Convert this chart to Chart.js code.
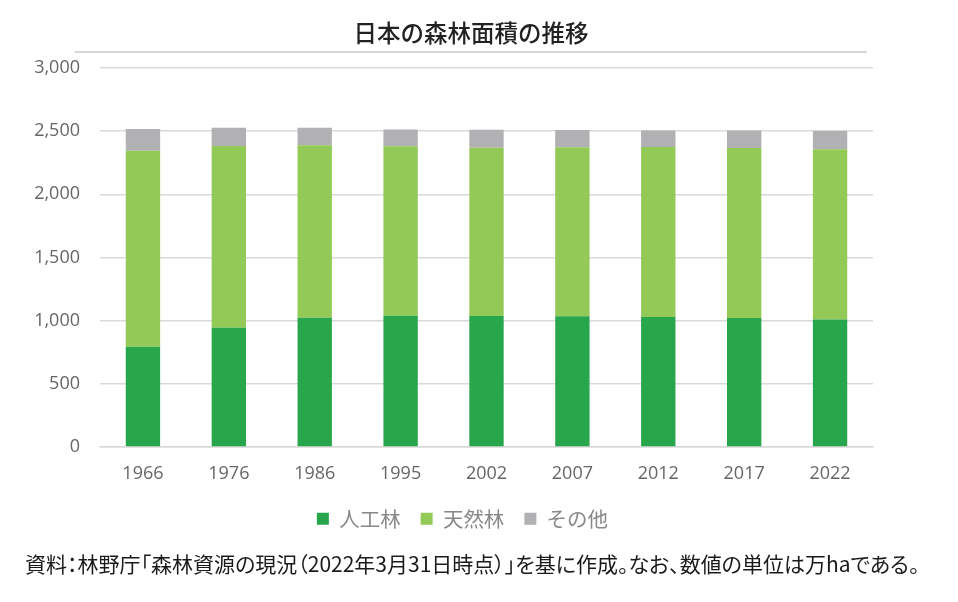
<!DOCTYPE html>
<html lang="ja">
<head>
<meta charset="utf-8">
<script src="https://cdn.jsdelivr.net/npm/chart.js@4"></script>
<style>
  html, body { margin: 0; padding: 0; background: #fff; }
  #wrap { position: relative; width: 958px; height: 602px; overflow: hidden; }
  #title {
    position: absolute; left: 0; top: 15px; width: 942px; text-align: center;
    font-family: "Noto Sans CJK JP", sans-serif; font-size: 23.5px; font-weight: 500;
    color: #222; line-height: 34px;
  }
  #rule { position: absolute; left: 75px; top: 51px; width: 792px; height: 2px; background: #d6d6d6; }
  #note {
    position: absolute; left: 25px; top: 547px;
    font-family: "Noto Sans CJK JP", sans-serif; font-size: 21px; color: #1a1a1a;
    font-feature-settings: "palt"; white-space: nowrap; line-height: 32px;
  }
  canvas { position: absolute; left: 0; top: 0; }
</style>
</head>
<body>
<div id="wrap">
  <canvas id="forestChart" width="958" height="602"></canvas>
  <div id="title">日本の森林面積の推移</div>
  <div id="rule"></div>
  <div id="note">資料：林野庁「森林資源の現況（2022年3月31日時点）」を基に作成。なお、数値の単位は万haである。</div>
</div>
<script>
// data (万ha)
const years = ['1966', '1976', '1986', '1995', '2002', '2007', '2012', '2017', '2022'];
const planted = [793, 943, 1022, 1038, 1036, 1035, 1029, 1020, 1009];
const natural = [1551, 1440, 1367, 1343, 1333, 1338, 1346, 1346, 1348];
const other = [173, 143, 137, 132, 142, 137, 131, 139, 145];
const yTicks = [0, 500, 1000, 1500, 2000, 2500, 3000];

const numFont = '"Open Sans", "DejaVu Sans", sans-serif';
const jpFont = '"Noto Sans CJK JP", sans-serif';

// nudge the legend up toward the year labels and a bit to the right
const legendShift = {
  id: 'legendShift',
  afterLayout(chart) {
    const lg = chart.legend;
    lg.top -= 12;
    lg.bottom -= 12;
    lg.left += 26;
    lg.right += 26;
  }
};

const ctx = document.getElementById('forestChart').getContext('2d');

new Chart(ctx, {
  type: 'bar',
  data: {
    labels: years,
    datasets: [
      { label: '人工林', data: planted, backgroundColor: '#27a64c' },
      { label: '天然林', data: natural, backgroundColor: '#92c957' },
      { label: 'その他', data: other, backgroundColor: '#b1b1b3' }
    ]
  },
  options: {
    responsive: false,
    animation: false,
    devicePixelRatio: 1,
    layout: { padding: { left: 0, right: 85, top: 68, bottom: 51 } },
    datasets: {
      bar: { categoryPercentage: 1, barPercentage: 0.4 }
    },
    scales: {
      x: {
        stacked: true,
        grid: { display: false, drawTicks: false },
        border: { display: true, color: '#d9d9d9', width: 1.5 },
        ticks: { color: '#666', padding: 16, font: { family: numFont, size: 18 } }
      },
      y: {
        stacked: true,
        min: 0,
        max: 3000,
        afterBuildTicks: (scale) => { scale.ticks = yTicks.map(v => ({ value: v })); },
        afterFit: (scale) => { scale.width = 100; },
        grid: { color: '#d9d9d9', lineWidth: 1.5, drawTicks: false },
        border: { display: false },
        ticks: {
          color: '#666',
          padding: 20,
          font: { family: numFont, size: 18 },
          callback: (v) => v.toLocaleString('en-US')
        }
      }
    },
    plugins: {
      title: { display: false },
      tooltip: { enabled: false },
      legend: {
        position: 'bottom',
        labels: {
          boxWidth: 12,
          boxHeight: 12,
          padding: 20,
          color: '#888',
          font: { family: jpFont, size: 20.5 }
        }
      }
    }
  },
  plugins: [legendShift]
});
</script>
</body>
</html>
